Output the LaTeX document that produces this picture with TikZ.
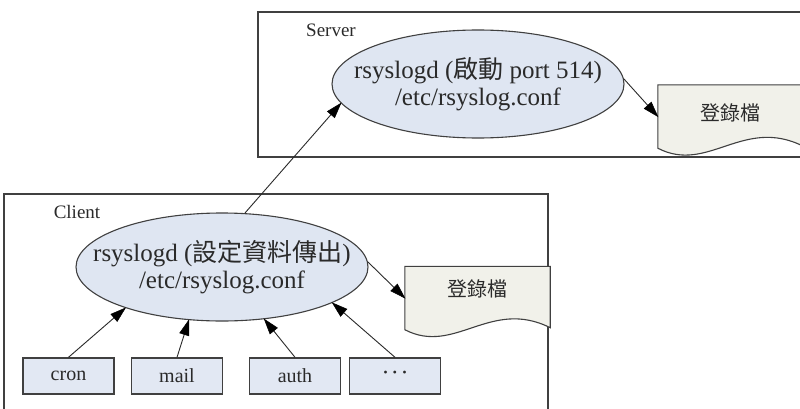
\documentclass[tikz,border=0pt]{standalone}
\usepackage{fontspec}
\setmainfont{Liberation Serif}
\newfontfamily\cjk{Noto Sans CJK TC}
\usetikzlibrary{shapes.geometric,calc}
\definecolor{ellfill}{HTML}{DFE6F2}
\definecolor{boxfill}{HTML}{E2E8F3}
\definecolor{docfill}{HTML}{F1F1EA}
\definecolor{edge}{HTML}{404040}
\definecolor{txt}{HTML}{2A2A2A}
% connector from #1 to #2 with a filled triangular head at #2
\newcommand\myconn[2]{%
  \draw[connline] (#1) -- ($(#2)!12pt!(#1)$);
  \filldraw[headfill] (#2) -- ($(#2)!15pt!(#1)!4.8pt!90:(#2)$) -- ($(#2)!15pt!(#1)!4.8pt!-90:(#2)$) -- cycle;}
\begin{document}
\begin{tikzpicture}[x=1pt,y=1pt,
  container/.style={draw=edge,line width=1.4pt},
  lbl/.style={text=txt,font=\fontsize{19}{21}\selectfont,inner sep=0pt},
  proc/.style={ellipse,draw=edge,line width=1.1pt,fill=ellfill,minimum width=292pt,minimum height=108pt,inner sep=0pt},
  proctext/.style={align=center,text=txt,inner sep=0pt,font=\fontsize{25}{27}\selectfont},
  docframe/.style={minimum width=145pt,minimum height=63pt,inner sep=0pt},
  docshape/.style={draw=edge,line width=1.1pt,fill=docfill},
  doctext/.style={text=txt,font=\fontsize{20}{22}\selectfont\cjk,inner sep=0pt},
  srcbox/.style={draw=edge,line width=1.4pt,fill=boxfill,minimum width=91pt,minimum height=36pt,inner sep=0pt,text=txt,font=\fontsize{20}{22}\selectfont},
  connline/.style={draw=txt,line width=0.9pt},
  headfill/.style={fill=black,draw=black,line width=0.5pt,line join=miter}]
\useasboundingbox (0,0) rectangle (800,408);
\fill[white] (0,0) rectangle (800,408);
\begin{scope}
\clip (0,0) rectangle (800,408);
% containers
\draw[container] (258,396) rectangle (812,251);
\node[lbl] (srvlbl) at (331,378) {Server};
\draw[container] (4,214) rectangle (548,-12);
\node[lbl] (clilbl) at (77,196) {Client};
% ellipses
\node[proc] (sell) at (478,324) {};
\node[proctext] (selltxt) at (sell.center) {rsyslogd ({\cjk 啟動} port 514)\\/etc/rsyslog.conf};
\node[proc] (cell) at (222,141) {};
\node[proctext] (celltxt) at (cell.center) {rsyslogd ({\cjk 設定資料傳出})\\/etc/rsyslog.conf};
% server document
\node[docframe] (sdoc) at (730.5,291.5) {};
\filldraw[docshape] (sdoc.south west) -- (sdoc.north west) -- (sdoc.north east) -- ($(sdoc.south east)+(0,2)$)
  .. controls ($(sdoc.south east)+(-60,32)$) and ($(sdoc.south west)+(50,-26)$) .. (sdoc.south west) -- cycle;
\node[doctext] (sdoctxt) at ($(sdoc.center)+(0,4)$) {登錄檔};
% client document
\node[docframe] (cdoc) at (477.5,110) {};
\filldraw[docshape] (cdoc.south west) -- (cdoc.north west) -- (cdoc.north east) -- ($(cdoc.south east)+(0,2)$)
  .. controls ($(cdoc.south east)+(-60,32)$) and ($(cdoc.south west)+(50,-26)$) .. (cdoc.south west) -- cycle;
\node[doctext] (cdoctxt) at ($(cdoc.center)+(0,9)$) {登錄檔};
% sources
\node[srcbox] (cron) at (68.5,32) {cron};
\node[srcbox] (mail) at (177,32) {mail};
\node[srcbox] (auth) at (295,32) {auth};
\node[srcbox] (dots) at (395,32) {{\fontsize{24}{26}\selectfont ·\hspace{1.5pt}·\hspace{1.5pt}·}};
\end{scope}
% connectors
\myconn{cell.67}{sell.188.6}
\myconn{sell.2}{sdoc.west}
\myconn{cell.2}{cdoc.west}
\myconn{cron.north}{cell.203}
\myconn{mail.north}{cell.238}
\myconn{auth.north}{cell.309}
\myconn{dots.north}{cell.342}
\end{tikzpicture}
\end{document}
